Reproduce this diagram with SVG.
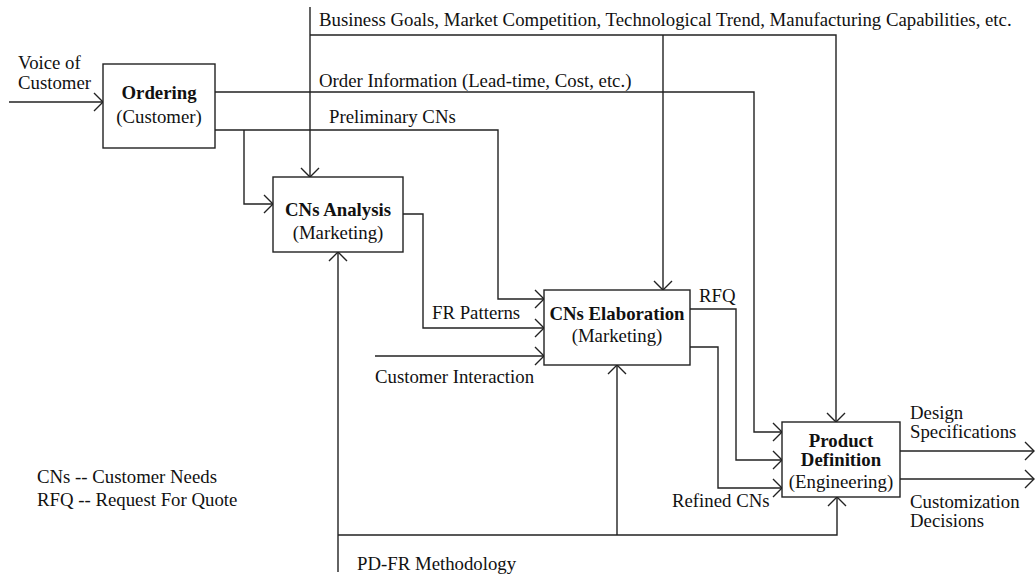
<svg xmlns="http://www.w3.org/2000/svg" width="1036" height="579" viewBox="0 0 1036 579">
  <style>
    text { font-family: "Liberation Serif", "Times New Roman", serif; font-size: 18.8px; fill: #111; }
    .b { font-weight: bold; }
    .c { text-anchor: middle; }
    .box { fill: #fff; stroke: #222; stroke-width: 1.4; }
    .ln { fill: none; stroke: #222; stroke-width: 1.4; }
    .arr { marker-end: url(#head); }
  </style>
  <defs>
    <marker id="head" markerUnits="userSpaceOnUse" markerWidth="12" markerHeight="22" refX="10" refY="10" orient="auto" viewBox="0 0 12 20">
      <path d="M1,1 L10,10 L1,19" fill="none" stroke="#222" stroke-width="1.4"/>
    </marker>
  </defs>

  <!-- connectors -->
  <g id="connectors">
    <path class="ln arr" d="M9,102 H103"/>
    <path class="ln arr" d="M310,7 V177"/>
    <path class="ln arr" d="M310,35 H836 V422"/>
    <path class="ln arr" d="M663,35 V290"/>
    <path class="ln arr" d="M215,92 H754 V432 H782"/>
    <path class="ln arr" d="M215,130 H498 V299 H544"/>
    <path class="ln arr" d="M244,130 V204 H273"/>
    <path class="ln arr" d="M403,214 H423 V328 H544"/>
    <path class="ln arr" d="M375,356 H544"/>
    <path class="ln arr" d="M690,309 H736 V460 H782"/>
    <path class="ln arr" d="M690,347 H718 V488 H782"/>
    <path class="ln arr" d="M338,572 V252"/>
    <path class="ln arr" d="M338,535 H837 V497"/>
    <path class="ln arr" d="M617,535 V365"/>
    <path class="ln arr" d="M900,451 H1034"/>
    <path class="ln arr" d="M900,479 H1034"/>
  </g>

  <!-- connector labels -->
  <g id="labels">
    <text x="18" y="69">Voice of</text>
    <text x="18" y="89">Customer</text>
    <text x="319" y="26">Business Goals, Market Competition, Technological Trend, Manufacturing Capabilities, etc.</text>
    <text x="319" y="87">Order Information (Lead-time, Cost, etc.)</text>
    <text x="329" y="123">Preliminary CNs</text>
    <text x="432" y="319">FR Patterns</text>
    <text x="375" y="383">Customer Interaction</text>
    <text x="699" y="302">RFQ</text>
    <text x="672" y="507">Refined CNs</text>
    <text x="910" y="419">Design</text>
    <text x="910" y="438">Specifications</text>
    <text x="910" y="508">Customization</text>
    <text x="910" y="527">Decisions</text>
    <text x="357" y="570">PD-FR Methodology</text>
  </g>

  <!-- abbreviations -->
  <g id="legend">
    <text x="37" y="483">CNs -- Customer Needs</text>
    <text x="37" y="506">RFQ -- Request For Quote</text>
  </g>

  <g id="ordering">
    <rect class="box" x="103" y="64" width="112" height="84"/>
    <text class="b c" x="159" y="99">Ordering</text>
    <text class="c" x="159" y="123">(Customer)</text>
  </g>

  <g id="cns-analysis">
    <rect class="box" x="273" y="177" width="130" height="75"/>
    <text class="b c" x="338" y="216">CNs Analysis</text>
    <text class="c" x="338" y="239">(Marketing)</text>
  </g>

  <g id="cns-elaboration">
    <rect class="box" x="544" y="290" width="146" height="75"/>
    <text class="b c" x="617" y="320">CNs Elaboration</text>
    <text class="c" x="617" y="342">(Marketing)</text>
  </g>

  <g id="product-definition">
    <rect class="box" x="782" y="422" width="118" height="75"/>
    <text class="b c" x="841" y="447">Product</text>
    <text class="b c" x="841" y="466">Definition</text>
    <text class="c" x="841" y="488">(Engineering)</text>
  </g>
</svg>
